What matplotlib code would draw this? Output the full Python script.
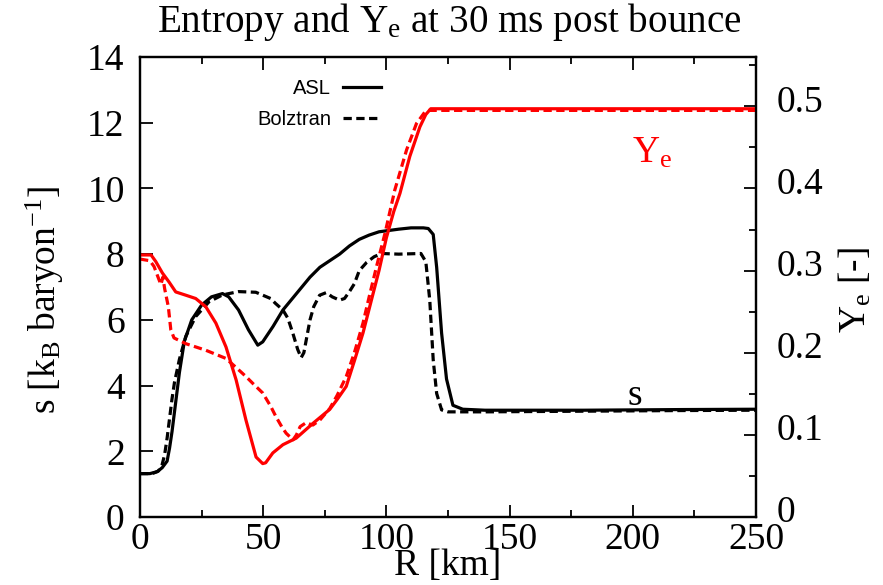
import matplotlib
matplotlib.use("Agg")
import matplotlib.pyplot as plt
import matplotlib.transforms as mtransforms
from matplotlib.ticker import MultipleLocator

plt.rcParams['font.family'] = ['Liberation Serif', 'DejaVu Serif']
plt.rcParams['mathtext.fontset'] = 'custom'
plt.rcParams['mathtext.rm'] = 'Liberation Serif'
plt.rcParams['mathtext.it'] = 'Liberation Serif:italic'

# Entropy profiles (k_B per baryon) vs radius (km)
r_s_asl = [0, 4, 7, 9, 11, 12, 13, 14, 16, 18, 21, 25, 29, 33.5, 36, 40, 44, 47.8, 49.8,
           54, 58, 63.5, 69, 73, 77, 81, 85, 89, 93, 97, 101, 105, 110, 115, 117, 119,
           120.4, 122.4, 124.4, 127, 131, 140, 160, 180, 200, 220, 250]
s_asl = [1.32, 1.32, 1.38, 1.5, 1.7, 2.1, 2.6, 3.2, 4.4, 5.35, 6.0, 6.45, 6.7, 6.8, 6.7,
         6.3, 5.7, 5.23, 5.33, 5.8, 6.3, 6.8, 7.3, 7.6, 7.8, 8.0, 8.25, 8.45, 8.58, 8.68,
         8.72, 8.76, 8.8, 8.8, 8.78, 8.6, 7.6, 5.6, 4.2, 3.4, 3.28, 3.25, 3.25, 3.25, 3.26,
         3.27, 3.28]

r_s_bolz = [0, 5, 7.5, 9, 10, 11, 12, 13, 14, 16, 18.6, 22.6, 28, 33.5, 40, 47, 53, 55,
            58, 60, 62, 64, 65.4, 66.5, 67.5, 69, 70.5, 72.9, 75.6, 78, 81, 83, 85, 87,
            89, 92, 95, 98, 105, 114, 116, 117.6, 119, 120.4, 122.4, 125, 140, 180, 220, 250]
s_bolz = [1.32, 1.32, 1.4, 1.6, 1.9, 2.4, 3.0, 3.6, 4.1, 4.8, 5.5, 6.1, 6.55, 6.76, 6.86,
          6.84, 6.65, 6.5, 6.3, 6.05, 5.6, 5.1, 4.85, 5.0, 5.4, 6.0, 6.4, 6.75, 6.83, 6.7,
          6.6, 6.65, 6.86, 7.1, 7.5, 7.75, 7.92, 8.02, 8.0, 8.02, 7.77, 6.6, 4.78, 3.76,
          3.26, 3.2, 3.2, 3.22, 3.24, 3.25]

# Electron fraction profiles
r_ye_asl = [0, 4.5, 6.4, 9.1, 11.8, 14.5, 18.6, 22.6, 26.7, 30.8, 34.9, 39, 43, 47.1,
            49.8, 51, 53.9, 58, 63.4, 70.2, 77, 80, 83.7, 87, 90.5, 94, 97, 100, 103,
            105.5, 109.5, 113.6, 116, 118, 250]
ye_asl = [0.319, 0.319, 0.311, 0.297, 0.286, 0.274, 0.270, 0.266, 0.256, 0.236, 0.207,
          0.167, 0.118, 0.073, 0.065, 0.066, 0.078, 0.088, 0.096, 0.114, 0.131, 0.143,
          0.159, 0.19, 0.224, 0.265, 0.30, 0.340, 0.372, 0.394, 0.439, 0.475, 0.490,
          0.497, 0.497]

r_ye_bolz = [0, 4, 5.7, 7.7, 8.5, 9.3, 10, 11.5, 12.5, 13.8, 18.6, 26.7, 34.9, 39, 43,
             46, 49.8, 53, 55.2, 57.5, 59.3, 62.1, 63.5, 65, 67.5, 69, 70.2, 73, 77, 80,
             83.7, 87, 90.5, 93, 96, 99.4, 103.4, 108.2, 112.2, 115.6, 117, 250]
ye_bolz = [0.314, 0.312, 0.305, 0.289, 0.283, 0.292, 0.278, 0.256, 0.228, 0.218, 0.211,
           0.203, 0.193, 0.182, 0.171, 0.162, 0.151, 0.135, 0.122, 0.110, 0.102, 0.094,
           0.100, 0.110, 0.115, 0.113, 0.112, 0.118, 0.132, 0.148, 0.171, 0.2, 0.236,
           0.268, 0.305, 0.345, 0.398, 0.447, 0.479, 0.493, 0.495, 0.495]

x_ticks = [0, 50, 100, 150, 200, 250]
s_ticks = [0, 2, 4, 6, 8, 10, 12, 14]
ye_ticks = [0, 0.1, 0.2, 0.3, 0.4, 0.5]
ye_tick_labels = ["0", "0.1", "0.2", "0.3", "0.4", "0.5"]

fig = plt.figure(figsize=(8.83, 5.85), dpi=100)
ax = fig.add_axes([140 / 883, 1 - 517 / 585, 616 / 883, 460 / 585])
ax2 = ax.twinx()

lw = 2.3
dash = (2.6, 1.4)
ax.plot(r_s_asl, s_asl, color='black', lw=lw, label='ASL')
ax.plot(r_s_bolz, s_bolz, color='black', lw=lw, ls=(0, dash), label='Bolztran')
ax2.plot(r_ye_asl, ye_asl, color='red', lw=lw)
ax2.plot(r_ye_bolz, ye_bolz, color='red', lw=lw, ls=(0, dash))

ax.set_xlim(0, 250)
ax.set_ylim(0, 14)
ax2.set_ylim(0, 0.56)

fs = 27
ax.set_xticks(x_ticks)
ax.set_xticklabels([str(v) for v in x_ticks])
ax.xaxis.set_minor_locator(MultipleLocator(25))
ax.set_yticks(s_ticks)
ax.set_yticklabels([str(v) for v in s_ticks])
ax2.set_yticks(ye_ticks)
ax2.set_yticklabels(ye_tick_labels)
ax2.yaxis.set_minor_locator(MultipleLocator(0.05))

ax.tick_params(axis='x', which='both', direction='in', top=True, labelsize=fs, pad=4)
ax.tick_params(axis='x', which='major', length=9, width=1.3)
ax.tick_params(axis='x', which='minor', length=5, width=1.3)
ax.tick_params(axis='y', which='major', direction='in', length=9, width=1.3,
               labelsize=fs, pad=11, right=False)
ax2.tick_params(axis='y', which='major', direction='in', length=9, width=1.3,
                labelsize=fs, pad=15)
ax2.tick_params(axis='y', which='minor', direction='in', length=5, width=1.3)
for a in (ax, ax2):
    for sp in a.spines.values():
        sp.set_linewidth(1.6)

# right-hand tick labels sit slightly above their ticks
shift = mtransforms.ScaledTranslation(0, 8 / 100, fig.dpi_scale_trans)
for lab in ax2.get_yticklabels():
    lab.set_transform(lab.get_transform() + shift)

fig.text(449 / 883, 1 - 22 / 585, r'Entropy and Y$_\mathrm{e}$ at 30 ms post bounce',
         ha='center', va='center', fontsize=28.2)
fig.text(448 / 883, 1 - 566 / 585, 'R [km]', ha='center', va='center', fontsize=fs)
fig.text(45 / 883, 1 - 300 / 585, r's [k$_\mathrm{B}$ baryon$^\mathrm{-1}$]',
         ha='center', va='center', rotation=90, fontsize=fs)
fig.text(855 / 883, 1 - 290 / 585, r'Y$_\mathrm{e}$ [-]',
         ha='center', va='center', rotation=90, fontsize=fs)

ax2.text(208, 0.431, r'Y$_\mathrm{e}$', color='red', fontsize=fs, ha='center', va='baseline')
ax.text(201, 3.41, 's', color='black', fontsize=fs, ha='center', va='baseline')

leg = ax.legend(loc='upper left', bbox_to_anchor=(0.177, 0.97), frameon=False,
                prop={'family': 'Liberation Sans', 'size': 14.5},
                markerfirst=False, handlelength=1.9, handletextpad=0.6,
                labelspacing=0.6, borderaxespad=0)
for t in leg.get_texts():
    t.set_ha('right')

fig.savefig('out.png', dpi=100)
